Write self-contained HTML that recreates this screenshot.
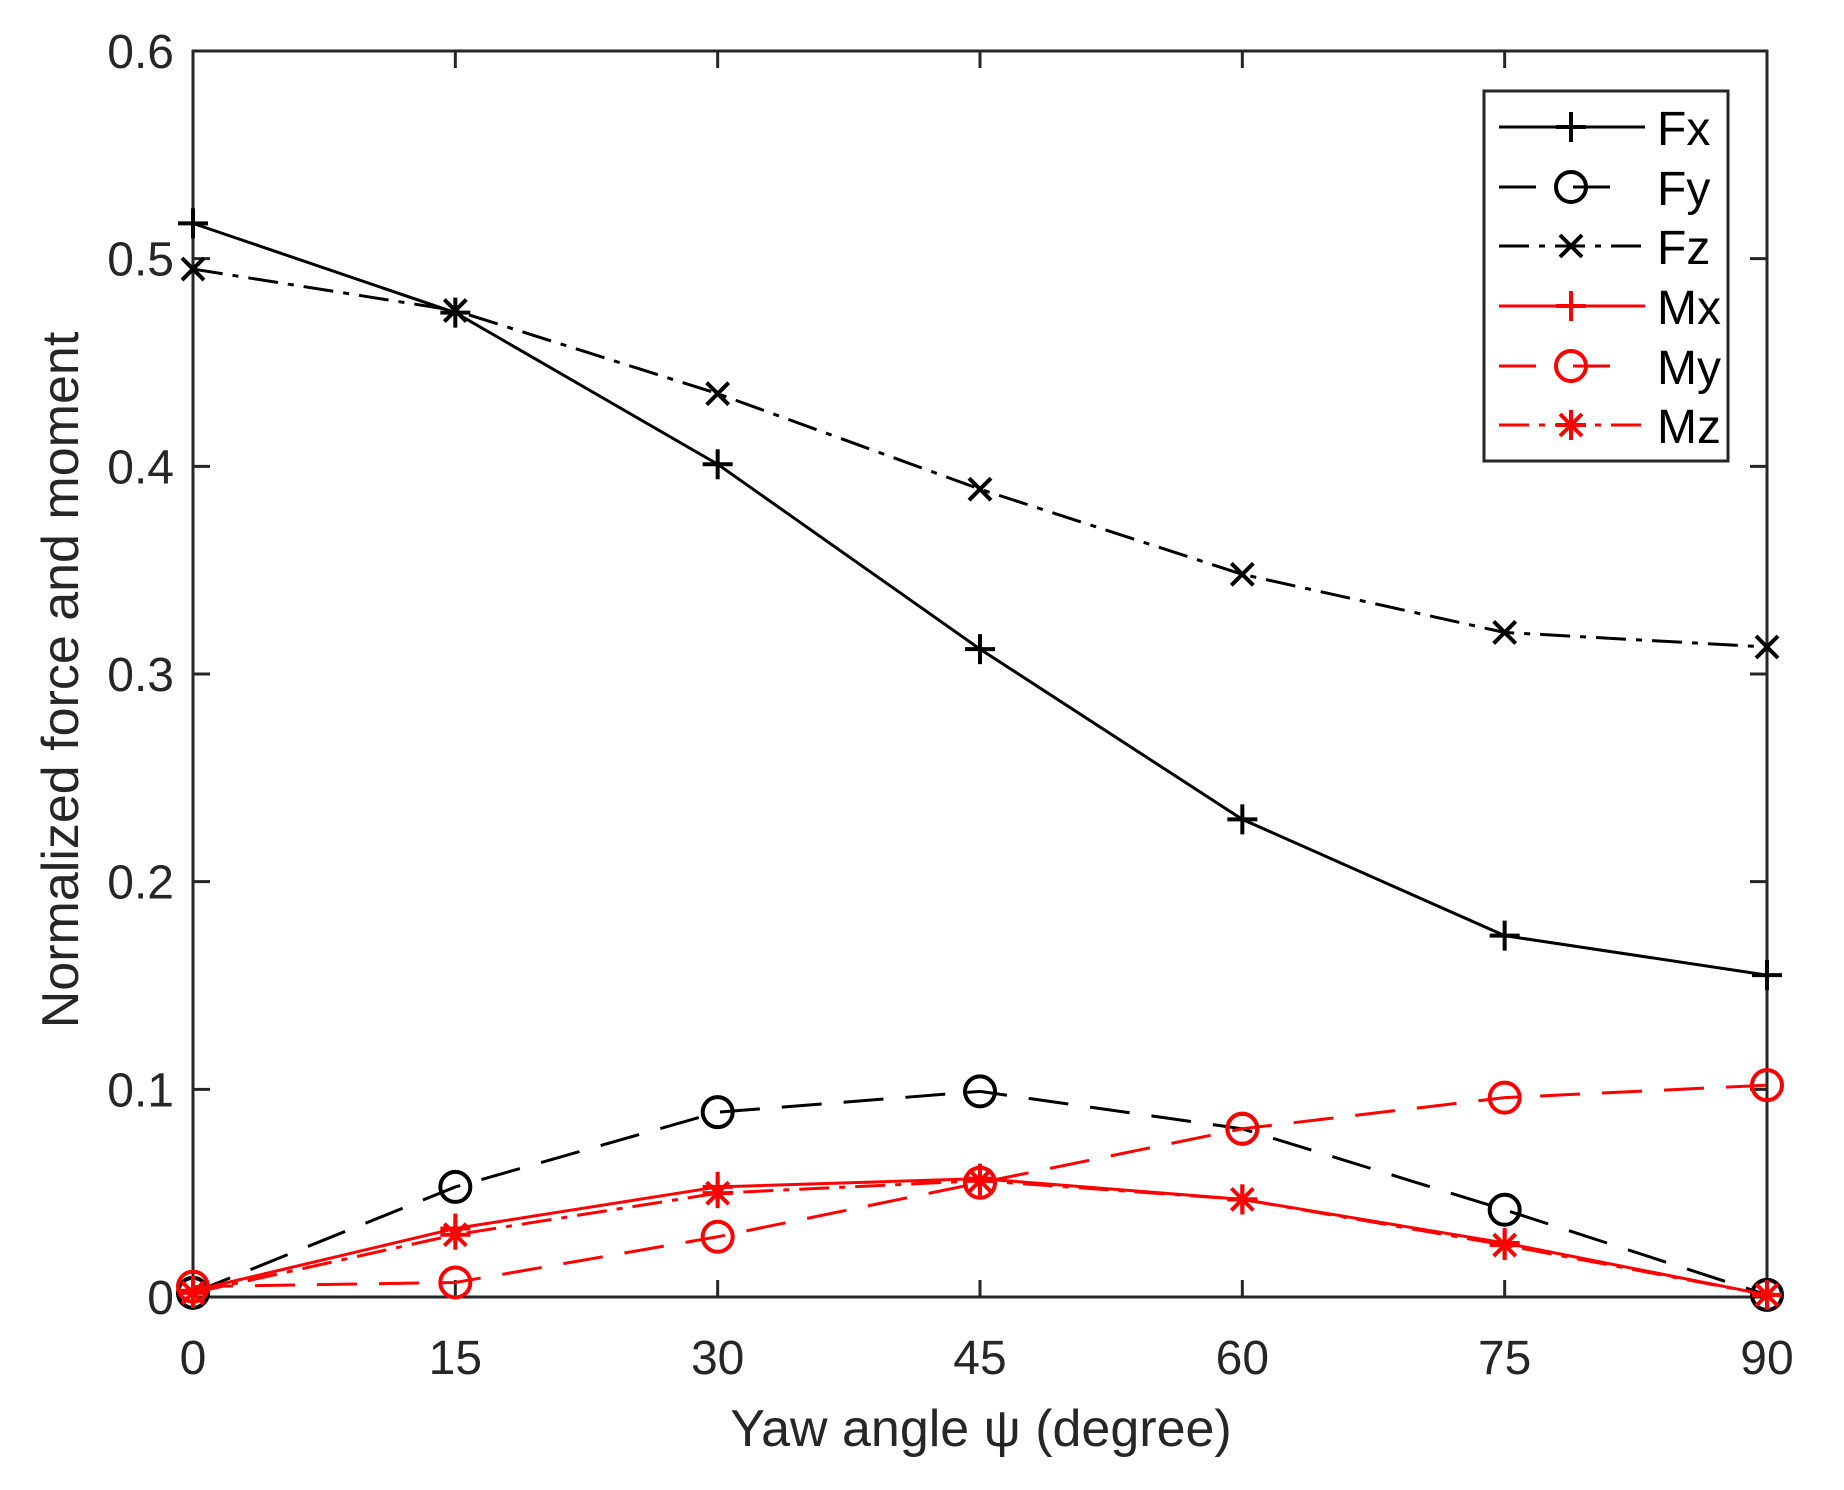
<!DOCTYPE html>
<html><head><meta charset="utf-8"><style>body{margin:0;background:#fff}svg{display:block}</style></head>
<body>
<svg id="s" width="1844" height="1490" xmlns="http://www.w3.org/2000/svg" font-family="Liberation Sans, sans-serif"></svg>
<script>
var s=document.getElementById('s');
var L=193,R=1767,T=51,B=1297;
function X(v){return L+(R-L)*v/90}
function Y(v){return B-(B-T)*v/0.6}
var h='';
h+='<rect x="'+L+'" y="'+T+'" width="'+(R-L)+'" height="'+(B-T)+'" fill="#fff" stroke="#262626" stroke-width="3"/>';
for(var i=0;i<=6;i++){var x=X(i*15);h+='<line x1="'+x+'" y1="'+B+'" x2="'+x+'" y2="'+(B-17)+'" stroke="#262626" stroke-width="3"/><line x1="'+x+'" y1="'+T+'" x2="'+x+'" y2="'+(T+17)+'" stroke="#262626" stroke-width="3"/>';
h+='<text x="'+x+'" y="1374" font-size="48" text-anchor="middle" fill="#262626">'+(i*15)+'</text>';}
var yl=['0','0.1','0.2','0.3','0.4','0.5','0.6'];
for(var i=0;i<=6;i++){var y=Y(i*0.1);h+='<line x1="'+L+'" y1="'+y+'" x2="'+(L+17)+'" y2="'+y+'" stroke="#262626" stroke-width="3"/><line x1="'+R+'" y1="'+y+'" x2="'+(R-17)+'" y2="'+y+'" stroke="#262626" stroke-width="3"/>';
h+='<text x="174" y="'+(y+17)+'" font-size="48" text-anchor="end" fill="#262626">'+yl[i]+'</text>';}
h+='<text x="981" y="1446" font-size="52" text-anchor="middle" fill="#262626">Yaw angle ψ (degree)</text>';
h+='<text transform="translate(78,680) rotate(-90)" font-size="52" text-anchor="middle" fill="#262626">Normalized force and moment</text>';
var ser=[
['Fx','#000','',[.517,.474,.401,.312,.230,.174,.155],'+'],
['Fy','#000','40 22',[.002,.053,.089,.099,.081,.042,.001],'o'],
['Fz','#000','30 10 6 10',[.495,.475,.435,.389,.348,.320,.313],'x'],
['Mx','#f00','',[.003,.033,.053,.057,.047,.026,.001],'+'],
['My','#f00','40 22',[.005,.007,.029,.055,.081,.096,.102],'o'],
['Mz','#f00','30 10 6 10',[.002,.030,.050,.056,.047,.025,.001],'*']];
function mk(t,x,y,c){var r=15;
if(t=='+')return '<path d="M'+(x-r)+' '+y+'H'+(x+r)+'M'+x+' '+(y-r)+'V'+(y+r)+'" stroke="'+c+'" stroke-width="4"/>';
if(t=='o')return '<circle cx="'+x+'" cy="'+y+'" r="15" fill="none" stroke="'+c+'" stroke-width="4"/>';
var q=11,p='M'+(x-q)+' '+(y-q)+'L'+(x+q)+' '+(y+q)+'M'+(x-q)+' '+(y+q)+'L'+(x+q)+' '+(y-q);
if(t=='*')p+='M'+(x-r)+' '+y+'H'+(x+r)+'M'+x+' '+(y-r)+'V'+(y+r);
return '<path d="'+p+'" stroke="'+c+'" stroke-width="4"/>';}
ser.forEach(function(a){var pts=a[3].map(function(v,i){return X(i*15)+','+Y(v)}).join(' ');
h+='<polyline points="'+pts+'" fill="none" stroke="'+a[1]+'" stroke-width="3" '+(a[2]?'stroke-dasharray="'+a[2]+'"':'')+'/>';
a[3].forEach(function(v,i){h+=mk(a[4],X(i*15),Y(v),a[1])});});
h+='<rect x="1484" y="91" width="244" height="370" fill="#fff" stroke="#262626" stroke-width="3"/>';
var ly=[127,187,246,306,366,425];
ser.forEach(function(a,i){var y=ly[i];
h+='<line x1="1499" y1="'+y+'" x2="1645" y2="'+y+'" stroke="'+a[1]+'" stroke-width="3" '+(a[2]?'stroke-dasharray="'+(a[2]=='40 22'?'37 37':'30 10 6 10')+'"':'')+'/>';
h+=mk(a[4],1571,y,a[1]);
h+='<text x="1657" y="'+(y+18)+'" font-size="48" fill="#000">'+a[0]+'</text>';});
s.innerHTML=h;
</script>
</body></html>
